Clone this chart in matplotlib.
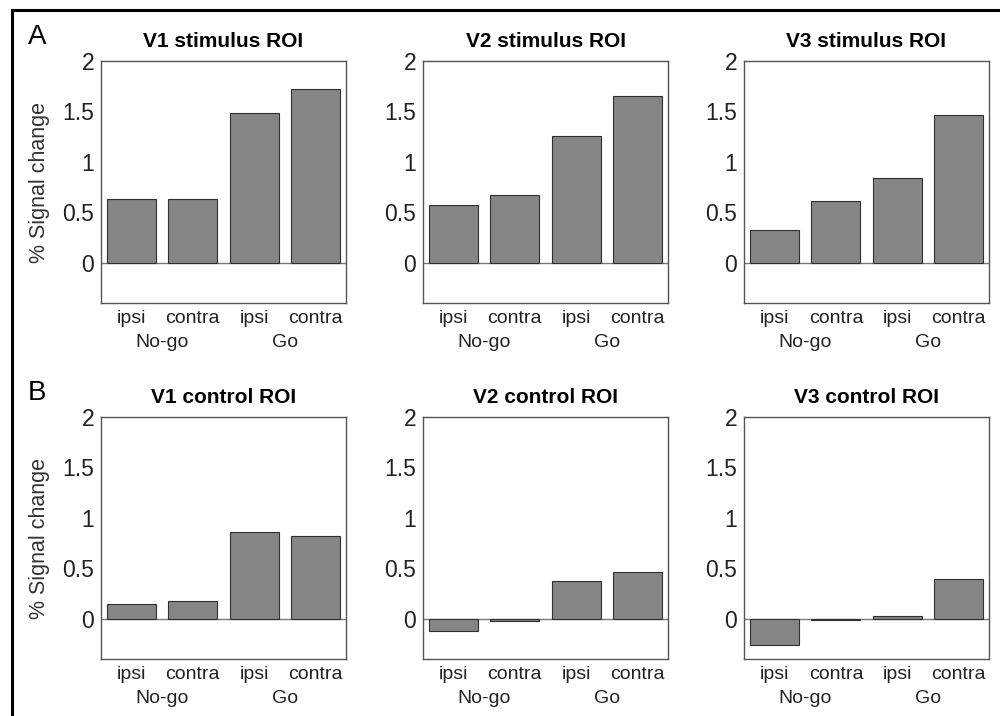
import matplotlib
matplotlib.use("Agg")
import matplotlib.pyplot as plt
from matplotlib.lines import Line2D
import matplotlib.transforms as mtransforms

plt.rcParams["font.family"] = ["Liberation Sans", "DejaVu Sans"]

conditions = ["ipsi", "contra", "ipsi", "contra"]
groups = ["No-go", "Go"]

titles_a = ["V1 stimulus ROI", "V2 stimulus ROI", "V3 stimulus ROI"]
titles_b = ["V1 control ROI", "V2 control ROI", "V3 control ROI"]

v1_stim = [0.63, 0.63, 1.48, 1.72]
v2_stim = [0.57, 0.67, 1.26, 1.65]
v3_stim = [0.32, 0.61, 0.84, 1.46]

v1_ctrl = [0.15, 0.18, 0.86, 0.82]
v2_ctrl = [-0.12, -0.025, 0.37, 0.46]
v3_ctrl = [-0.26, -0.015, 0.03, 0.39]

rows = [
    ("A", titles_a, [v1_stim, v2_stim, v3_stim]),
    ("B", titles_b, [v1_ctrl, v2_ctrl, v3_ctrl]),
]

fig = plt.figure(figsize=(10, 7.16), dpi=100)

col_left = [0.101, 0.423, 0.744]
row_bottom = [0.5768, 0.0796]
ax_w, ax_h = 0.245, 0.338

for r, (letter, titles, data) in enumerate(rows):
    for c in range(3):
        ax = fig.add_axes([col_left[c], row_bottom[r], ax_w, ax_h])
        x = [1, 2, 3, 4]
        ax.bar(x, data[c], width=0.8, color="#858585",
               edgecolor="#303030", linewidth=0.8, zorder=2)
        ax.axhline(0, color="#7a7a7a", lw=1.0, zorder=1)
        ax.set_xlim(0.5, 4.5)
        ax.set_ylim(-0.4, 2)
        ax.set_yticks([0, 0.5, 1, 1.5, 2])
        ax.set_yticklabels(["0", "0.5", "1", "1.5", "2"])
        ax.set_xticks(x)
        ax.set_xticklabels(conditions)
        ax.tick_params(axis="y", length=0, labelsize=16.5, pad=5,
                       labelcolor="#222222")
        ax.tick_params(axis="x", length=0, labelsize=14, pad=5,
                       labelcolor="#222222")
        for sp in ax.spines.values():
            sp.set_color("#555555")
            sp.set_linewidth(1.0)
        ax.set_title(titles[c], fontsize=15, fontweight="bold", pad=10)
        trans = mtransforms.blended_transform_factory(ax.transData, ax.transAxes)
        for g, gx in zip(groups, [1.5, 3.5]):
            ax.text(gx, -0.127, g, transform=trans, ha="center", va="top",
                    fontsize=14, color="#222222")
        if c == 0:
            ax.set_ylabel("% Signal change", fontsize=15.5, color="#333333",
                          labelpad=9)
    fig.text(0.028, 1 - (37.5 if r == 0 else 393) / 716, letter,
             fontsize=20, ha="left", va="center")

# frame round the figure (left and top edges visible)
fig.add_artist(Line2D([0.0115, 0.0115], [0, 1 - 9.5 / 716],
                      transform=fig.transFigure, color="black", lw=2.2))
fig.add_artist(Line2D([0.0115, 1.0], [1 - 9.5 / 716, 1 - 9.5 / 716],
                      transform=fig.transFigure, color="black", lw=2.2))

fig.savefig("out.png", dpi=100)
